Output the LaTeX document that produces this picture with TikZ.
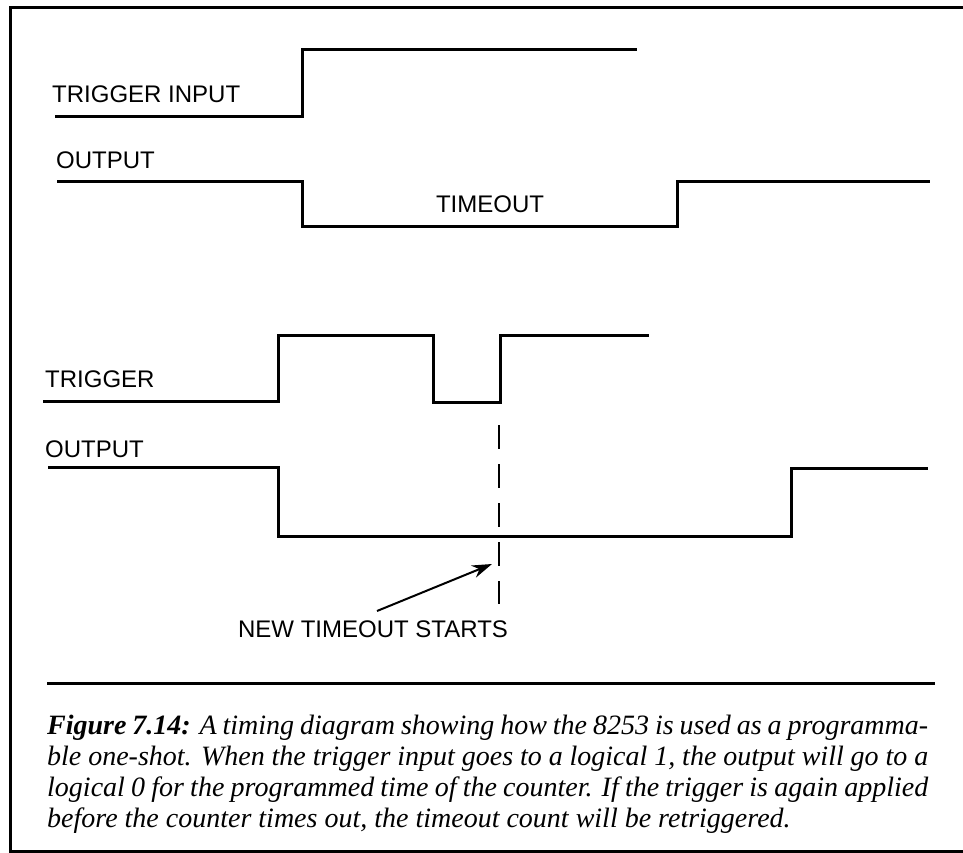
\documentclass[tikz,border=0pt]{standalone}
\usepackage{fontspec}
\setmainfont{Liberation Serif}
\setsansfont{Liberation Sans}
\usetikzlibrary{arrows.meta}
\begin{document}
\begin{tikzpicture}[x=1pt,y=-1pt,
  sig/.style={line width=3pt, line join=miter, line cap=butt},
  framestyle/.style={line width=3pt},
  lbl/.style={font=\sffamily\fontsize{24}{24}\selectfont, inner sep=0pt},
  dashline/.style={line width=2pt, dash pattern=on 24pt off 15pt},
  pointer/.style={line width=2pt, -{Stealth[length=20pt,width=13pt]}},
  captionstyle/.style={inner sep=0pt, anchor=base west}]
\useasboundingbox (0,0) rectangle (963,853);
% frame
\draw[framestyle] (963,8) -- (10,8) -- (10,851) -- (963,851);
% top trigger input
\coordinate (a0) at (55,117);
\coordinate (a1) at (302,117);
\coordinate (a2) at (302,50);
\coordinate (a3) at (637,50);
\draw[sig] (a0) -- (a1) -- (a2) -- (a3);
\node[lbl, anchor=base west] (ltrigin) at (52,103) {TRIGGER INPUT};
% top output
\coordinate (b0) at (57,182);
\coordinate (b1) at (302,182);
\coordinate (b2) at (302,226);
\coordinate (b3) at (677,226);
\coordinate (b4) at (677,182);
\coordinate (b5) at (930,182);
\draw[sig] (b0) -- (b1) -- (b2) -- (b3) -- (b4) -- (b5);
\node[lbl, anchor=base west] (lout1) at (56,168) {OUTPUT};
\node[lbl, anchor=base] (ltimeout) at (490,212) {TIMEOUT};
% bottom trigger
\coordinate (c0) at (43,401);
\coordinate (c1) at (278,401);
\coordinate (c2) at (278,335);
\coordinate (c3) at (433,335);
\coordinate (c4) at (433,402);
\coordinate (c5) at (500,402);
\coordinate (c6) at (500,335);
\coordinate (c7) at (649,335);
\draw[sig] (c0) -- (c1) -- (c2) -- (c3) -- (c4) -- (c5) -- (c6) -- (c7);
\node[lbl, anchor=base west] (ltrig) at (45,387) {TRIGGER};
% bottom output
\coordinate (d0) at (48,467);
\coordinate (d1) at (278,467);
\coordinate (d2) at (278,536);
\coordinate (d3) at (791,536);
\coordinate (d4) at (791,468);
\coordinate (d5) at (928,468);
\draw[sig] (d0) -- (d1) -- (d2) -- (d3) -- (d4) -- (d5);
\node[lbl, anchor=base west] (lout2) at (45,457) {OUTPUT};
% dashed marker
\coordinate (m0) at (499,425);
\coordinate (m1) at (499,604);
\draw[dashline] (m0) -- (m1);
% arrow and label
\node[lbl, anchor=base] (lnew) at (373,637) {NEW TIMEOUT STARTS};
\coordinate (p0) at (377,611);
\coordinate (p1) at (492,564);
\draw[pointer] (p0) -- (p1);
% separator
\coordinate (s0) at (47,683);
\coordinate (s1) at (935,683);
\draw[framestyle] (s0) -- (s1);
% caption
\node[captionstyle] (cap) at (47,734) {\parbox[t]{881pt}{\fontsize{28}{31}\selectfont\itshape
\textbf{Figure 7.14:} A timing diagram showing how the 8253 is used as a programma-\linebreak
ble one-shot. When the trigger input goes to a logical 1, the output will go to a\linebreak
logical 0 for the programmed time of the counter. If the trigger is again applied\linebreak
before the counter times out, the timeout count will be retriggered.}};
\end{tikzpicture}
\end{document}
